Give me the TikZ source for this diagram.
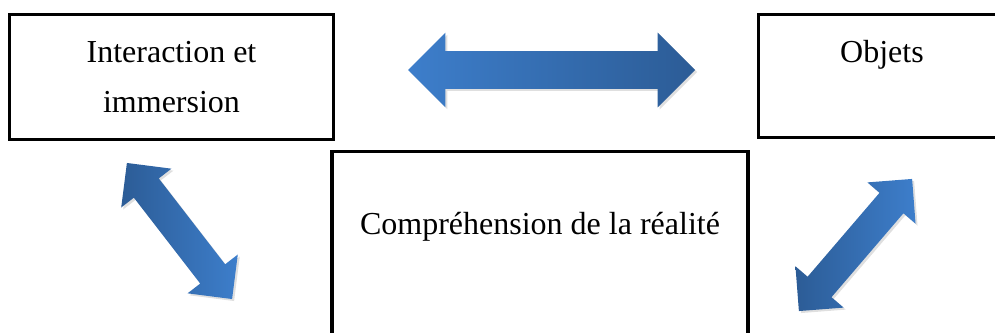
\documentclass[tikz,border=0pt]{standalone}
\usepackage{fontspec}
\setmainfont{Liberation Serif}
\usetikzlibrary{shapes.arrows,shadows}
\definecolor{flecheclair}{RGB}{61,126,203}
\definecolor{flechefonce}{RGB}{44,92,150}

\begin{document}
\begin{tikzpicture}[x=0.75pt, y=-0.75pt,
boite/.style={rectangle, draw=black, line width=2.6pt, align=center, inner sep=0pt, font=\fontsize{24}{37.5}\selectfont},
fleche/.style={double arrow, inner xsep=0pt, double arrow tip angle=90, draw=none, drop shadow={shadow xshift=1.5pt, shadow yshift=-1.5pt, opacity=0.25}}]

\useasboundingbox (0,0) rectangle (995,332);

\node[boite, minimum width=243pt, minimum height=93.75pt] (inter) at (171.5,77) {Interaction et\\immersion};

\node[boite, minimum width=185.25pt, minimum height=92.25pt] (objets) at (882,76) {Objets\\~};

\node[boite, minimum width=312pt, minimum height=145.5pt] (compr) at (540,248.5) {Compréhension de la réalité\\~};

\node[fleche, minimum height=215.25pt, inner ysep=13.9pt, double arrow head extend=13.9pt, left color=flecheclair, right color=flechefonce] (fh) at (551.5,70) {};

\node[fleche, minimum height=129pt, inner ysep=11.6pt, double arrow head extend=12pt, rotate=-52.3, left color=flechefonce, right color=flecheclair] (fg) at (179.5,231) {};

\node[fleche, minimum height=130.5pt, inner ysep=11.6pt, double arrow head extend=12pt, rotate=49.4, left color=flechefonce, right color=flecheclair] (fd) at (855.5,245) {};

\end{tikzpicture}
\end{document}
